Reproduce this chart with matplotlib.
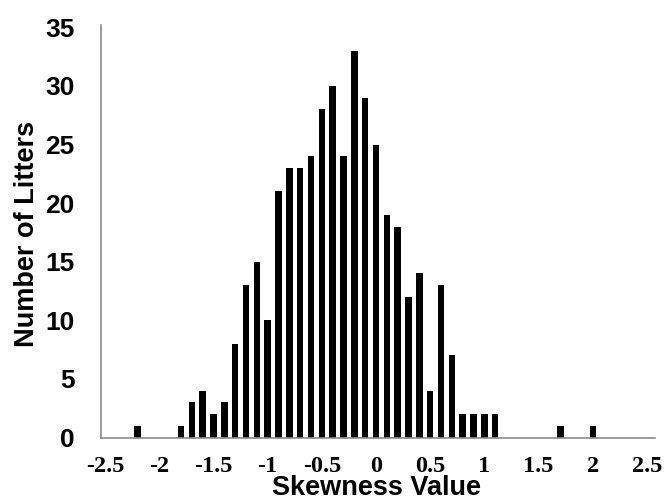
import numpy as np
import matplotlib
matplotlib.use("Agg")
import matplotlib.pyplot as plt

# bin centres (skewness) and counts
skew_bins = [-2.2, -1.8, -1.7, -1.6, -1.5, -1.4, -1.3, -1.2, -1.1, -1.0,
             -0.9, -0.8, -0.7, -0.6, -0.5, -0.4, -0.3, -0.2, -0.1, 0.0,
             0.1, 0.2, 0.3, 0.4, 0.5, 0.6, 0.7, 0.8, 0.9, 1.0, 1.1,
             1.7, 2.0]
litters = [1, 1, 3, 4, 2, 3, 8, 13, 15, 10,
           21, 23, 23, 24, 28, 30, 24, 33, 29, 25,
           19, 18, 12, 14, 4, 13, 7, 2, 2, 2, 2,
           1, 1]

x_ticks = [-2.5, -2, -1.5, -1, -0.5, 0, 0.5, 1, 1.5, 2, 2.5]
x_tick_labels = ["-2.5", "-2", "-1.5", "-1", "-0.5", "0", "0.5", "1", "1.5", "2", "2.5"]
y_ticks = [0, 5, 10, 15, 20, 25, 30, 35]

fig = plt.figure(figsize=(6.66, 5.0), dpi=100)
ax = fig.add_axes([0.1517, 0.125, 0.8318, 0.825])

ax.bar(skew_bins, litters, width=0.06, color="black")

ax.set_xlim(-2.537, 2.574)
ax.set_ylim(0, 35.2)

ax.set_xticks(x_ticks)
ax.set_xticklabels(x_tick_labels, fontfamily="Liberation Serif",
                   fontweight="bold", fontsize=17.5)
ax.set_yticks(y_ticks)
ax.set_yticklabels([str(v) for v in y_ticks], fontfamily="Liberation Sans",
                   fontweight="bold", fontsize=19)
ax.tick_params(axis="x", length=0, pad=13)
ax.tick_params(axis="y", length=0, pad=19)

for side in ["top", "right"]:
    ax.spines[side].set_visible(False)
for side in ["left", "bottom"]:
    ax.spines[side].set_color("#8a8a8a")
    ax.spines[side].set_linewidth(1.2)

ax.set_xlabel("Skewness Value", fontfamily="Liberation Sans",
              fontweight="bold", fontsize=19.5, va="center")
ax.xaxis.set_label_coords(0.498, -0.123)
ax.set_ylabel("Number of Litters", fontfamily="Liberation Sans",
              fontweight="bold", fontsize=19.5, va="center")
ax.yaxis.set_label_coords(-0.133, 0.493)

fig.savefig("out.png", dpi=100)
